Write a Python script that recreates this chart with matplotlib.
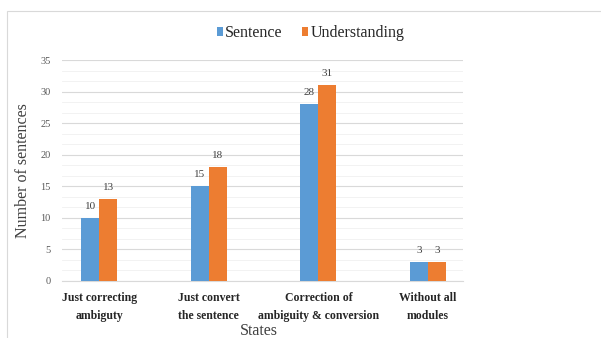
import matplotlib
matplotlib.use("Agg")
import matplotlib.pyplot as plt
import matplotlib.patches as mpatches
from matplotlib.ticker import MultipleLocator, AutoMinorLocator
import numpy as np

# Data
STATES = ["Just correcting\nambiguty", "Just convert\nthe sentence",
          "Correction of\nambiguity & conversion", "Without all\nmodules"]
SENTENCE = [10, 15, 28, 3]
UNDERSTANDING = [13, 18, 31, 3]

BLUE = "#5B9BD5"
ORANGE = "#ED7D31"

plt.rcParams["font.family"] = ["Liberation Serif", "DejaVu Serif"]

fig = plt.figure(figsize=(6.01, 3.38), dpi=100)
fig.patch.set_facecolor("white")

# chart area frame
fig.patches.append(mpatches.Rectangle((7 / 601, -0.1), 1.2, 1 - 11 / 338 + 0.1,
                                      transform=fig.transFigure, fill=False,
                                      edgecolor="#D9D9D9", linewidth=0.8))

ax = fig.add_axes([62 / 601, 1 - 281 / 338, (463 - 62) / 601, (281 - 60) / 338])

x = np.arange(len(STATES))
w = 0.165
b1 = ax.bar(x - w / 2, SENTENCE, w, color=BLUE, zorder=3, label="Sentence")
b2 = ax.bar(x + w / 2, UNDERSTANDING, w, color=ORANGE, zorder=3, label="Understanding")

for bars, vals in [(b1, SENTENCE), (b2, UNDERSTANDING)]:
    for r, v in zip(bars, vals):
        ax.text(r.get_x() + r.get_width() / 2, v + 1.1, str(v),
                ha="center", va="bottom", fontsize=8, color="#404040")

ax.set_xlim(-0.34, 3.32)
ax.set_ylim(0, 35)
ax.yaxis.set_major_locator(MultipleLocator(5))
ax.yaxis.set_minor_locator(AutoMinorLocator(3))
ax.grid(axis="y", which="major", color="#D9D9D9", linewidth=0.8, zorder=0)
ax.grid(axis="y", which="minor", color="#F0F0F0", linewidth=0.6, zorder=0)

for s in ["top", "right", "left"]:
    ax.spines[s].set_visible(False)
ax.spines["bottom"].set_color("#D9D9D9")

ax.set_xticks(x)
ax.set_xticklabels(STATES, fontsize=8.5, fontweight="bold", color="#262626",
                   linespacing=1.65)
ax.tick_params(axis="x", length=0, pad=8)
ax.tick_params(axis="y", which="both", length=0, labelsize=7.5,
               labelcolor="#595959", pad=8)

ax.set_ylabel("Number of sentences", fontsize=11.5, color="#404040", labelpad=7)
ax.set_xlabel("States", fontsize=11.5, color="#404040")
ax.xaxis.set_label_coords(0.49, -0.19)

ax.legend(handles=[b1, b2], loc="lower center", bbox_to_anchor=(0.62, 1.02),
          ncol=2, frameon=False, fontsize=11.5, handlelength=0.4,
          handleheight=0.4, handletextpad=0.15, columnspacing=1.2,
          labelcolor="#262626")

plt.savefig("out.png", dpi=100, facecolor=fig.get_facecolor())
